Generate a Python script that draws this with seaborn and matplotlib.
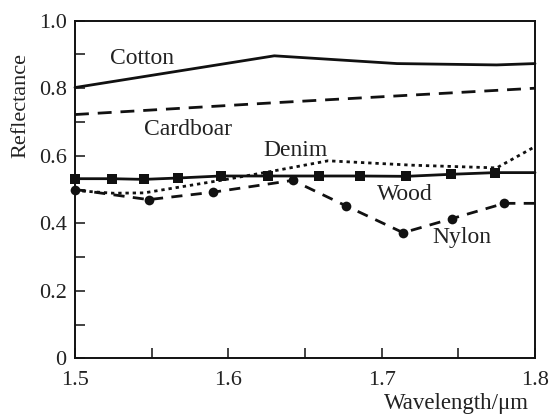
import matplotlib
matplotlib.use("Agg")
import matplotlib.pyplot as plt
import seaborn as sns
import numpy as np
from matplotlib.ticker import FixedLocator

sns.set_theme(style="ticks")
plt.rcParams['font.family'] = ['Liberation Serif', 'DejaVu Serif']

# data
cotton_x = [1.50, 1.63, 1.71, 1.775, 1.80]
cotton_y = [0.802, 0.896, 0.873, 0.869, 0.873]

card_x = [1.50, 1.63, 1.80]
card_y = [0.722, 0.757, 0.800]

denim_x = [1.50, 1.525, 1.545, 1.595, 1.626, 1.665, 1.72, 1.775, 1.80]
denim_y = [0.497, 0.489, 0.490, 0.527, 0.552, 0.585, 0.572, 0.564, 0.627]

wood_x = [1.50, 1.524, 1.545, 1.567, 1.595, 1.626, 1.659, 1.686, 1.716, 1.745, 1.774, 1.80]
wood_y = [0.532, 0.532, 0.530, 0.534, 0.540, 0.540, 0.540, 0.540, 0.539, 0.545, 0.550, 0.550]

nylon_x = [1.50, 1.548, 1.590, 1.642, 1.677, 1.714, 1.746, 1.780, 1.80]
nylon_y = [0.500, 0.470, 0.492, 0.527, 0.451, 0.372, 0.414, 0.459, 0.459]

labels = ["Cotton", "Cardboar", "Denim", "Wood", "Nylon"]
label_x = [1.544, 1.574, 1.644, 1.715, 1.752]
label_y = [0.872, 0.660, 0.600, 0.468, 0.341]

x_major = [1.5, 1.6, 1.7, 1.8]
x_minor = [1.55, 1.65, 1.75]
x_ticklabels = ["1.5", "1.6", "1.7", "1.8"]
y_major = [0.0, 0.2, 0.4, 0.6, 0.8, 1.0]
y_minor = [0.1, 0.3, 0.5, 0.7, 0.9]
y_ticklabels = ["0", "0.2", "0.4", "0.6", "0.8", "1.0"]

fig = plt.figure(figsize=(5.53, 4.16), dpi=100)
ax = fig.add_axes([75/553, 1-358.3/416, 460/553, (358.3-20.7)/416])

k = '#111111'
lw = 2.0
sns.lineplot(x=cotton_x, y=cotton_y, ax=ax, color=k, lw=lw, clip_on=False)
sns.lineplot(x=card_x, y=card_y, ax=ax, color=k, lw=lw,
             linestyle=(0, (5, 3.2)), clip_on=False)
sns.lineplot(x=denim_x, y=denim_y, ax=ax, color=k, lw=lw,
             linestyle=(0, (1.2, 1.4)), clip_on=False)
sns.lineplot(x=wood_x, y=wood_y, ax=ax, color=k, lw=lw, marker='s', markersize=7,
             markevery=list(range(len(wood_x)-1)), markeredgewidth=0, clip_on=False)
sns.lineplot(x=nylon_x, y=nylon_y, ax=ax, color=k, lw=lw, linestyle=(0, (4, 3)),
             marker='o', markersize=7, markevery=list(range(len(nylon_x)-1)),
             markeredgewidth=0, clip_on=False)

for t, tx, ty in zip(labels, label_x, label_y):
    ax.text(tx, ty, t, ha='center', va='baseline', fontsize=17, color='#222222')

ax.set_xlim(1.5, 1.8)
ax.set_ylim(0, 1.0)
ax.xaxis.set_major_locator(FixedLocator(x_major))
ax.xaxis.set_minor_locator(FixedLocator(x_minor))
ax.yaxis.set_major_locator(FixedLocator(y_major))
ax.yaxis.set_minor_locator(FixedLocator(y_minor))
ax.set_xticklabels(x_ticklabels)
ax.set_yticklabels(y_ticklabels)
ax.tick_params(axis='both', which='both', direction='in', length=7, width=1.1,
               color=k, labelsize=16, labelcolor='#222222', top=False, right=False)
ax.tick_params(axis='x', which='both', pad=9)
ax.tick_params(axis='y', which='both', pad=6)
for s in ax.spines.values():
    s.set_linewidth(1.4)
    s.set_color(k)

ax.set_xlabel("Wavelength/μm", fontsize=16.5, color='#222222', ha='right')
ax.xaxis.set_label_coords(0.988, -0.102)
ax.set_ylabel("Reflectance", fontsize=16, color='#222222')
ax.yaxis.set_label_coords(-0.097, 0.75)

fig.savefig("out.png", dpi=100)
